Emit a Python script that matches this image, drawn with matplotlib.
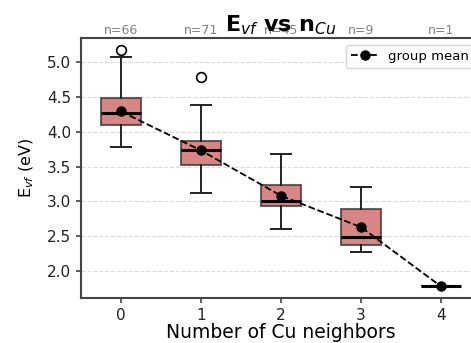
import matplotlib
matplotlib.use("Agg")
import matplotlib.pyplot as plt

plt.rcParams['font.family'] = ['DejaVu Sans']

# Summary statistics per number of Cu neighbors
n_cu = [0, 1, 2, 3, 4]
counts = [66, 71, 45, 9, 1]
whislo = [3.78, 3.12, 2.61, 2.28, 1.78]
q1 = [4.10, 3.52, 2.94, 2.37, 1.78]
med = [4.27, 3.73, 3.01, 2.49, 1.78]
q3 = [4.49, 3.87, 3.23, 2.89, 1.78]
whishi = [5.07, 4.38, 3.68, 3.20, 1.78]
fliers = [[5.17], [4.79], [], [], []]
means = [4.29, 3.73, 3.08, 2.63, 1.78]

stats = []
for i in range(len(n_cu)):
    stats.append(dict(whislo=whislo[i], q1=q1[i], med=med[i], q3=q3[i],
                      whishi=whishi[i], fliers=fliers[i]))

fig = plt.figure(figsize=(4.71, 3.43), dpi=100)
ax = fig.add_axes([81 / 471, 45 / 343, 400 / 471, 260 / 343])

ax.bxp(stats, positions=n_cu, widths=0.5, patch_artist=True,
       boxprops=dict(facecolor='indianred', alpha=0.75, edgecolor='#333333', linewidth=1.5),
       medianprops=dict(color='black', linewidth=2.2),
       whiskerprops=dict(color='#222222', linewidth=1.4),
       capprops=dict(color='#222222', linewidth=1.4),
       flierprops=dict(marker='o', markerfacecolor='white', markeredgecolor='black',
                       markersize=7, markeredgewidth=1.2))

ax.plot(n_cu, means, 'k--o', markersize=6.5, linewidth=1.3, label='group mean', zorder=5)

for x, n in zip(n_cu, counts):
    ax.text(x, 1.005, f"n={n}", transform=ax.get_xaxis_transform(),
            ha='center', va='bottom', fontsize=9, color='gray')

ax.set_xlim(-0.5, 4.5)
ax.set_ylim(1.613, 5.344)
ax.set_yticks([2.0, 2.5, 3.0, 3.5, 4.0, 4.5, 5.0])
ax.set_xticks(n_cu)
ax.set_xticklabels([str(v) for v in n_cu])
ax.yaxis.grid(True, linestyle='--', color='lightgray', alpha=0.8)
ax.set_axisbelow(True)

for side in ['left', 'bottom', 'top']:
    ax.spines[side].set_color('#444444')
    ax.spines[side].set_linewidth(1.5)
ax.tick_params(colors='#444444', labelcolor='#222222', labelsize=11, width=1.2)

ax.set_xlabel('Number of Cu neighbors', fontsize=13.5, labelpad=0)
ax.set_ylabel(r'E$_{vf}$ (eV)', fontsize=11.5, labelpad=8)
ax.set_title(r'$\mathbf{E}_{vf}$ $\mathbf{vs}$ $\mathbf{n}_{Cu}$', fontsize=16, fontweight='bold', pad=5)
ax.legend(loc='upper right', fontsize=9.5)

fig.savefig("out.png", dpi=100)
